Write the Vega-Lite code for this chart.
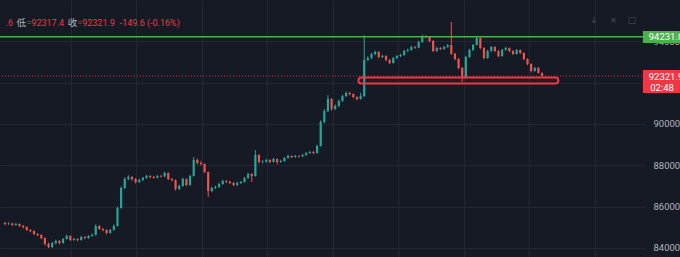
{
  "$schema": "https://vega.github.io/schema/vega-lite/v6.json",
  "autosize": {"type": "none"},
  "width": 645,
  "height": 257,
  "padding": {"left": 0, "top": 0, "right": 35, "bottom": 0},
  "background": "#161a25",
  "config": {"view": {"stroke": null}, "text": {"font": "Roboto, Noto Sans CJK SC"}},
  "datasets": {
    "candles": [
      {"t":0,"o":85200,"h":85260,"l":85100,"c":85157},
      {"t":1,"o":85157,"h":85240,"l":85110,"c":85180},
      {"t":2,"o":85180,"h":85220,"l":85060,"c":85109},
      {"t":3,"o":85109,"h":85210,"l":85070,"c":85157},
      {"t":4,"o":85157,"h":85190,"l":85020,"c":85061},
      {"t":5,"o":85061,"h":85110,"l":84950,"c":85012},
      {"t":6,"o":85012,"h":85050,"l":84830,"c":84867},
      {"t":7,"o":84867,"h":84910,"l":84760,"c":84818},
      {"t":8,"o":84818,"h":84850,"l":84620,"c":84673},
      {"t":9,"o":84673,"h":84720,"l":84560,"c":84624},
      {"t":10,"o":84624,"h":84660,"l":84420,"c":84479},
      {"t":11,"o":84479,"h":84510,"l":84120,"c":84188},
      {"t":12,"o":84188,"h":84260,"l":83990,"c":84043},
      {"t":13,"o":84043,"h":84290,"l":84000,"c":84237},
      {"t":14,"o":84237,"h":84400,"l":84180,"c":84334},
      {"t":15,"o":84334,"h":84380,"l":84170,"c":84237},
      {"t":16,"o":84237,"h":84480,"l":84200,"c":84431},
      {"t":17,"o":84431,"h":84640,"l":84400,"c":84576},
      {"t":18,"o":84576,"h":84600,"l":84330,"c":84382},
      {"t":19,"o":84382,"h":84490,"l":84340,"c":84431},
      {"t":20,"o":84431,"h":84470,"l":84320,"c":84382},
      {"t":21,"o":84382,"h":84580,"l":84350,"c":84527},
      {"t":22,"o":84527,"h":84560,"l":84420,"c":84479},
      {"t":23,"o":84479,"h":84620,"l":84440,"c":84576},
      {"t":24,"o":84576,"h":84700,"l":84540,"c":84624},
      {"t":25,"o":84624,"h":85140,"l":84600,"c":85061},
      {"t":26,"o":85061,"h":85100,"l":84870,"c":84915},
      {"t":27,"o":84915,"h":84960,"l":84800,"c":84867},
      {"t":28,"o":84867,"h":84900,"l":84660,"c":84721},
      {"t":29,"o":84721,"h":84920,"l":84690,"c":84867},
      {"t":30,"o":84867,"h":85130,"l":84840,"c":85061},
      {"t":31,"o":85061,"h":86000,"l":85030,"c":85932},
      {"t":32,"o":85932,"h":86980,"l":85900,"c":86901},
      {"t":33,"o":86901,"h":87420,"l":86850,"c":87336},
      {"t":34,"o":87336,"h":87520,"l":87280,"c":87433},
      {"t":35,"o":87433,"h":87480,"l":87250,"c":87336},
      {"t":36,"o":87336,"h":87380,"l":87120,"c":87191},
      {"t":37,"o":87191,"h":87350,"l":87150,"c":87288},
      {"t":38,"o":87288,"h":87440,"l":87240,"c":87385},
      {"t":39,"o":87385,"h":87540,"l":87350,"c":87482},
      {"t":40,"o":87482,"h":87520,"l":87370,"c":87433},
      {"t":41,"o":87433,"h":87490,"l":87350,"c":87400},
      {"t":42,"o":87400,"h":87530,"l":87360,"c":87482},
      {"t":43,"o":87482,"h":87540,"l":87410,"c":87460},
      {"t":44,"o":87460,"h":87680,"l":87430,"c":87627},
      {"t":45,"o":87627,"h":87650,"l":87290,"c":87336},
      {"t":46,"o":87336,"h":87380,"l":87220,"c":87288},
      {"t":47,"o":87288,"h":87310,"l":86780,"c":86852},
      {"t":48,"o":86852,"h":87060,"l":86810,"c":86997},
      {"t":49,"o":86997,"h":87400,"l":86960,"c":87336},
      {"t":50,"o":87336,"h":87360,"l":86990,"c":87046},
      {"t":51,"o":87046,"h":87540,"l":87010,"c":87482},
      {"t":52,"o":87482,"h":88400,"l":87450,"c":88257},
      {"t":53,"o":88257,"h":88330,"l":88050,"c":88111},
      {"t":54,"o":88111,"h":88200,"l":87990,"c":88063},
      {"t":55,"o":88063,"h":88100,"l":87620,"c":87675},
      {"t":56,"o":87675,"h":87700,"l":86470,"c":86755},
      {"t":57,"o":86755,"h":86960,"l":86700,"c":86901},
      {"t":58,"o":86901,"h":87010,"l":86850,"c":86949},
      {"t":59,"o":86949,"h":87150,"l":86910,"c":87094},
      {"t":60,"o":87094,"h":87300,"l":87060,"c":87239},
      {"t":61,"o":87239,"h":87290,"l":87140,"c":87200},
      {"t":62,"o":87200,"h":87250,"l":87090,"c":87142},
      {"t":63,"o":87142,"h":87190,"l":86990,"c":87046},
      {"t":64,"o":87046,"h":87200,"l":87000,"c":87142},
      {"t":65,"o":87142,"h":87240,"l":87100,"c":87191},
      {"t":66,"o":87191,"h":87440,"l":87160,"c":87385},
      {"t":67,"o":87385,"h":87640,"l":87350,"c":87579},
      {"t":68,"o":87579,"h":87620,"l":87191,"c":87482},
      {"t":69,"o":87482,"h":88740,"l":87450,"c":88499},
      {"t":70,"o":88499,"h":88530,"l":88100,"c":88160},
      {"t":71,"o":88160,"h":88250,"l":88090,"c":88180},
      {"t":72,"o":88180,"h":88320,"l":88130,"c":88257},
      {"t":73,"o":88257,"h":88290,"l":88100,"c":88160},
      {"t":74,"o":88160,"h":88360,"l":88130,"c":88305},
      {"t":75,"o":88305,"h":88330,"l":88050,"c":88160},
      {"t":76,"o":88160,"h":88270,"l":88120,"c":88208},
      {"t":77,"o":88208,"h":88400,"l":88170,"c":88354},
      {"t":78,"o":88354,"h":88510,"l":88320,"c":88450},
      {"t":79,"o":88450,"h":88480,"l":88350,"c":88402},
      {"t":80,"o":88402,"h":88500,"l":88360,"c":88450},
      {"t":81,"o":88450,"h":88490,"l":88380,"c":88430},
      {"t":82,"o":88430,"h":88560,"l":88400,"c":88499},
      {"t":83,"o":88499,"h":88640,"l":88460,"c":88596},
      {"t":84,"o":88596,"h":88700,"l":88560,"c":88644},
      {"t":85,"o":88644,"h":88690,"l":88540,"c":88596},
      {"t":86,"o":88596,"h":89000,"l":88560,"c":88935},
      {"t":87,"o":88935,"h":90180,"l":88900,"c":90097},
      {"t":88,"o":90097,"h":90720,"l":90040,"c":90630},
      {"t":89,"o":90630,"h":91400,"l":90580,"c":91211},
      {"t":90,"o":91211,"h":91250,"l":90650,"c":90726},
      {"t":91,"o":90726,"h":90950,"l":90680,"c":90872},
      {"t":92,"o":90872,"h":91180,"l":90830,"c":91114},
      {"t":93,"o":91114,"h":91420,"l":91070,"c":91356},
      {"t":94,"o":91356,"h":91580,"l":91300,"c":91501},
      {"t":95,"o":91501,"h":91560,"l":91390,"c":91450},
      {"t":96,"o":91450,"h":91480,"l":91250,"c":91308},
      {"t":97,"o":91308,"h":91340,"l":91150,"c":91211},
      {"t":98,"o":91211,"h":91500,"l":91180,"c":91356},
      {"t":99,"o":91356,"h":94300,"l":91300,"c":93100},
      {"t":100,"o":93100,"h":93280,"l":93050,"c":93196},
      {"t":101,"o":93196,"h":93450,"l":93140,"c":93390},
      {"t":102,"o":93390,"h":93560,"l":93330,"c":93487},
      {"t":103,"o":93487,"h":93520,"l":93180,"c":93245},
      {"t":104,"o":93245,"h":93360,"l":93200,"c":93293},
      {"t":105,"o":93293,"h":93330,"l":93040,"c":93099},
      {"t":106,"o":93099,"h":93150,"l":92900,"c":92954},
      {"t":107,"o":92954,"h":93250,"l":92920,"c":93196},
      {"t":108,"o":93196,"h":93350,"l":93150,"c":93293},
      {"t":109,"o":93293,"h":93400,"l":93240,"c":93342},
      {"t":110,"o":93342,"h":93590,"l":93300,"c":93535},
      {"t":111,"o":93535,"h":93650,"l":93490,"c":93584},
      {"t":112,"o":93584,"h":93790,"l":93550,"c":93729},
      {"t":113,"o":93729,"h":93780,"l":93640,"c":93700},
      {"t":114,"o":93700,"h":94030,"l":93670,"c":93971},
      {"t":115,"o":93971,"h":94330,"l":93930,"c":94262},
      {"t":116,"o":94262,"h":94300,"l":94150,"c":94213},
      {"t":117,"o":94213,"h":94250,"l":93960,"c":94020},
      {"t":118,"o":94020,"h":94060,"l":93480,"c":93535},
      {"t":119,"o":93535,"h":93740,"l":93500,"c":93681},
      {"t":120,"o":93681,"h":93720,"l":93580,"c":93632},
      {"t":121,"o":93632,"h":93780,"l":93600,"c":93729},
      {"t":122,"o":93729,"h":93870,"l":93690,"c":93820},
      {"t":123,"o":93820,"h":94940,"l":93350,"c":93400},
      {"t":124,"o":93400,"h":93450,"l":93080,"c":93150},
      {"t":125,"o":93150,"h":93200,"l":92650,"c":92712},
      {"t":126,"o":92712,"h":92760,"l":92034,"c":92228},
      {"t":127,"o":92228,"h":93300,"l":92200,"c":93245},
      {"t":128,"o":93245,"h":93640,"l":93200,"c":93584},
      {"t":129,"o":93584,"h":93880,"l":93540,"c":93826},
      {"t":130,"o":93826,"h":94240,"l":93800,"c":94165},
      {"t":131,"o":94165,"h":94190,"l":93620,"c":93681},
      {"t":132,"o":93681,"h":93720,"l":93140,"c":93196},
      {"t":133,"o":93196,"h":93590,"l":93160,"c":93535},
      {"t":134,"o":93535,"h":93780,"l":93500,"c":93729},
      {"t":135,"o":93729,"h":93760,"l":93480,"c":93535},
      {"t":136,"o":93535,"h":93570,"l":93240,"c":93293},
      {"t":137,"o":93293,"h":93640,"l":93260,"c":93584},
      {"t":138,"o":93584,"h":93740,"l":93550,"c":93681},
      {"t":139,"o":93681,"h":93710,"l":93480,"c":93535},
      {"t":140,"o":93535,"h":93570,"l":93340,"c":93390},
      {"t":141,"o":93390,"h":93630,"l":93360,"c":93584},
      {"t":142,"o":93584,"h":93610,"l":93390,"c":93439},
      {"t":143,"o":93439,"h":93470,"l":93090,"c":93148},
      {"t":144,"o":93148,"h":93180,"l":92850,"c":92906},
      {"t":145,"o":92906,"h":92940,"l":92500,"c":92567},
      {"t":146,"o":92567,"h":92770,"l":92530,"c":92712},
      {"t":147,"o":92712,"h":92760,"l":92440,"c":92471.5},
      {"t":148,"o":92471.5,"h":92496.6,"l":92317.4,"c":92321.9}
    ],
    "resistance": [{"price": 94231.0, "label": "94231.0"}],
    "last": [{"price": 92321.9, "label": "92321.9", "countdown": "02:48"}],
    "zone": [{"start": 97.4, "end": 152.5, "top": 92255, "bottom": 91965}],
    "one": [{"n": 1}]
  },
  "layer": [
    {
      "data": {"name": "candles"},
      "mark": {"type": "rule", "strokeWidth": 1},
      "encoding": {
        "x": {"field": "t", "type": "quantitative",
              "scale": {"domain": [0, 175], "nice": false, "zero": false},
              "axis": {"orient": "bottom", "values": [18.2, 36.2, 54.3, 72.3, 90.4, 108.4, 126.4, 144.5, 162.5],
                       "grid": true, "gridColor": "#232734", "gridWidth": 1, "labels": false, "ticks": false, "domain": false, "title": null}},
        "y": {"field": "l", "type": "quantitative",
              "scale": {"domain": [83559, 96005], "nice": false, "zero": false},
              "axis": {"orient": "right", "values": [84000, 86000, 88000, 90000, 92000, 94000],
                       "grid": true, "gridColor": "#232734", "gridWidth": 1, "ticks": false, "domain": false,
                       "labelPadding": 8, "labelColor": "#b2b5be", "labelFontSize": 9.5, "labelFont": "Roboto",
                       "labelAlign": "left", "labelExpr": "format(datum.value, '.1f')", "title": null}},
        "y2": {"field": "h"},
        "color": {"condition": {"test": "datum.c >= datum.o", "value": "#26a69a"}, "value": "#ef5350"}
      }
    },
    {
      "data": {"name": "candles"},
      "mark": {"type": "bar", "size": 2.2},
      "encoding": {
        "x": {"field": "t", "type": "quantitative"},
        "y": {"field": "o", "type": "quantitative"},
        "y2": {"field": "c"},
        "color": {"condition": {"test": "datum.c >= datum.o", "value": "#26a69a"}, "value": "#ef5350"}
      }
    },
    {
      "data": {"name": "resistance"},
      "mark": {"type": "rule", "color": "#4caf50", "strokeWidth": 1.5},
      "encoding": {"y": {"field": "price", "type": "quantitative"}}
    },
    {
      "data": {"name": "last"},
      "mark": {"type": "rule", "color": "#f23645", "strokeWidth": 1, "strokeDash": [1, 2], "opacity": 0.85},
      "encoding": {"y": {"field": "price", "type": "quantitative"}}
    },
    {
      "data": {"name": "zone"},
      "mark": {"type": "rect", "fill": "#f23645", "fillOpacity": 0.04, "stroke": "#f23645", "strokeWidth": 2, "cornerRadius": 3},
      "encoding": {
        "x": {"field": "start", "type": "quantitative"},
        "x2": {"field": "end"},
        "y": {"field": "top", "type": "quantitative"},
        "y2": {"field": "bottom"}
      }
    },
    {
      "data": {"name": "resistance"},
      "mark": {"type": "rect", "fill": "#4caf50", "clip": false},
      "encoding": {
        "x": {"datum": 175.8}, "x2": {"datum": 186},
        "y": {"datum": 94504}, "y2": {"datum": 93923}
      }
    },
    {
      "data": {"name": "resistance"},
      "mark": {"type": "text", "color": "#ffffff", "fontSize": 9.5, "align": "left", "baseline": "middle", "clip": false, "font": "Roboto"},
      "encoding": {
        "x": {"datum": 177.4}, "y": {"datum": 94213},
        "text": {"field": "label"}
      }
    },
    {
      "data": {"name": "last"},
      "mark": {"type": "rect", "fill": "#f23645", "clip": false},
      "encoding": {
        "x": {"datum": 175.8}, "x2": {"datum": 186},
        "y": {"datum": 92615}, "y2": {"datum": 91501}
      }
    },
    {
      "data": {"name": "last"},
      "mark": {"type": "text", "color": "#ffffff", "fontSize": 9.5, "align": "left", "baseline": "middle", "clip": false, "font": "Roboto"},
      "encoding": {
        "x": {"datum": 177.4}, "y": {"datum": 92300},
        "text": {"field": "label"}
      }
    },
    {
      "data": {"name": "last"},
      "mark": {"type": "text", "color": "#ffffff", "fontSize": 9.5, "align": "left", "baseline": "middle", "clip": false, "font": "Roboto"},
      "encoding": {
        "x": {"datum": 177.8}, "y": {"datum": 91767},
        "text": {"field": "countdown"}
      }
    },
    {
      "data": {"name": "one"},
      "mark": {"type": "text", "text": ".6", "color": "#f23645", "fontSize": 9, "align": "right", "baseline": "middle"},
      "encoding": {"x": {"datum": 2.2}, "y": {"datum": 94915}}
    },
    {
      "data": {"name": "one"},
      "mark": {"type": "text", "text": "低", "color": "#b2b5be", "fontSize": 9.5, "align": "left", "baseline": "middle"},
      "encoding": {"x": {"datum": 3.2}, "y": {"datum": 94915}}
    },
    {
      "data": {"name": "one"},
      "mark": {"type": "text", "text": "=92317.4", "color": "#f23645", "fontSize": 9, "align": "left", "baseline": "middle"},
      "encoding": {"x": {"datum": 5.9}, "y": {"datum": 94915}}
    },
    {
      "data": {"name": "one"},
      "mark": {"type": "text", "text": "收", "color": "#b2b5be", "fontSize": 9.5, "align": "left", "baseline": "middle"},
      "encoding": {"x": {"datum": 17.3}, "y": {"datum": 94915}}
    },
    {
      "data": {"name": "one"},
      "mark": {"type": "text", "text": "=92321.9", "color": "#f23645", "fontSize": 9, "align": "left", "baseline": "middle"},
      "encoding": {"x": {"datum": 19.9}, "y": {"datum": 94915}}
    },
    {
      "data": {"name": "one"},
      "mark": {"type": "text", "text": "-149.6 (-0.16%)", "color": "#f23645", "fontSize": 9, "align": "left", "baseline": "middle"},
      "encoding": {"x": {"datum": 31.6}, "y": {"datum": 94915}}
    },
    {
      "data": {"name": "one"},
      "mark": {"type": "text", "text": "↓", "color": "#4a4e5a", "fontSize": 9, "align": "center", "baseline": "middle", "font": "DejaVu Sans"},
      "encoding": {"x": {"datum": 162.3}, "y": {"datum": 95036}}
    },
    {
      "data": {"name": "one"},
      "mark": {"type": "text", "text": "×", "color": "#4a4e5a", "fontSize": 9, "align": "center", "baseline": "middle", "font": "DejaVu Sans"},
      "encoding": {"x": {"datum": 167.7}, "y": {"datum": 95036}}
    },
    {
      "data": {"name": "one"},
      "mark": {"type": "text", "text": "□", "color": "#4a4e5a", "fontSize": 9, "align": "center", "baseline": "middle", "font": "DejaVu Sans"},
      "encoding": {"x": {"datum": 172.8}, "y": {"datum": 95036}}
    }
  ]
}
